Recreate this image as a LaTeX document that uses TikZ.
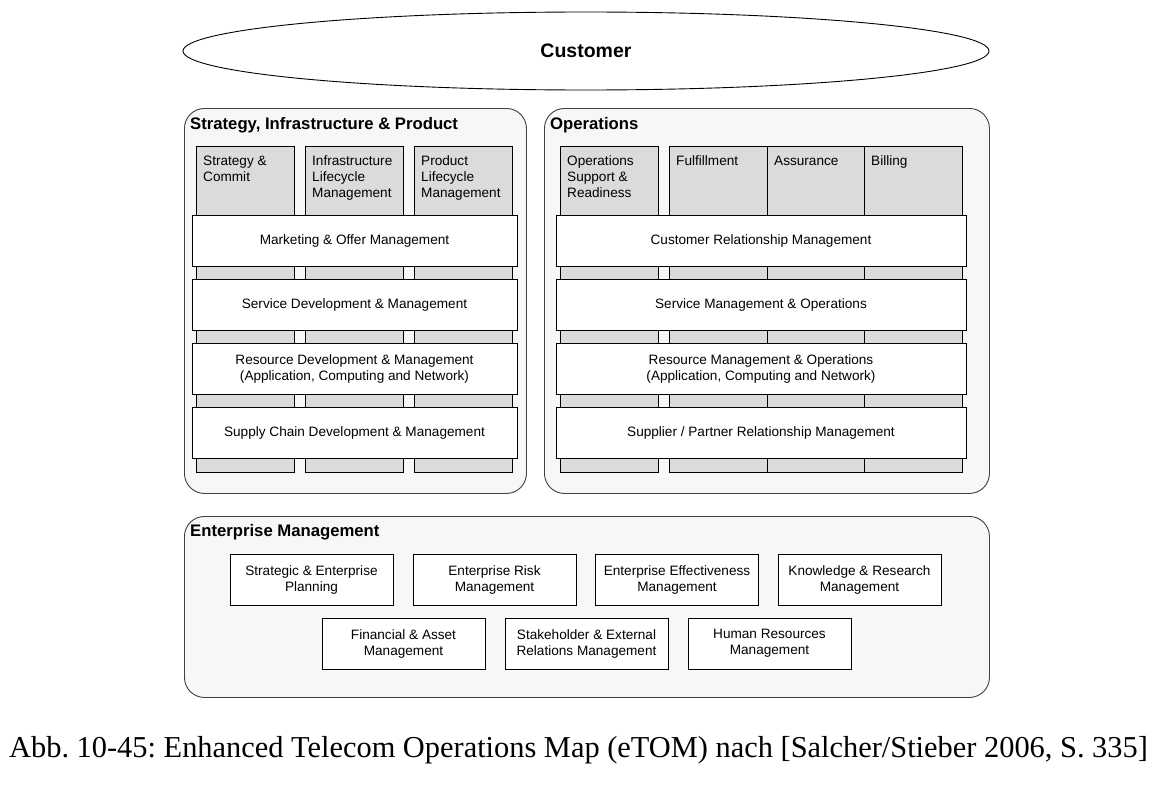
\documentclass[tikz,border=0pt]{standalone}
\usepackage{fontspec}
\setmainfont{Liberation Sans}
\newfontfamily\captionfont{Liberation Serif}
\usetikzlibrary{shapes.geometric}

\tikzset{
  panel/.style={draw=black!75,fill=black!3,rounded corners=20pt,line width=0.9pt,anchor=north west,inner sep=0pt},
  paneltitle/.style={anchor=north west,inner sep=0pt,font=\fontsize{16.7}{19}\selectfont\bfseries},
  column/.style={draw,fill=black!14,line width=0.9pt,anchor=north west,minimum width=98pt,minimum height=326pt,inner sep=0pt},
  coltext/.style={anchor=north west,align=left,inner sep=0pt,font=\fontsize{13.6}{16}\selectfont},
  layer/.style={draw,fill=white,line width=0.9pt,minimum height=51pt,align=center,inner sep=0pt,font=\fontsize{13.6}{16}\selectfont},
  embox/.style={draw,fill=white,line width=0.9pt,minimum width=163pt,minimum height=51pt,align=center,inner sep=0pt,font=\fontsize{13.6}{16}\selectfont},
}

\begin{document}
\begin{tikzpicture}[x=1pt,y=-1pt]
    \useasboundingbox (0,0) rectangle (1160,792);

    % customer
    \node[ellipse,draw,line width=0.9pt,minimum width=806pt,minimum height=78pt,font=\fontsize{19.5}{22}\selectfont\bfseries] (customer) at (586,51) {Customer};

    % panels
    \node[panel,minimum width=342pt,minimum height=385pt] (sip) at (184,108) {};
    \node[panel,minimum width=445pt,minimum height=385pt] (ops) at (544,108) {};
    \node[panel,minimum width=805pt,minimum height=181pt] (em) at (184,516) {};
    \node[paneltitle] (siptitle) at (190,117) {Strategy, Infrastructure \& Product};
    \node[paneltitle] (opstitle) at (550,117) {Operations};
    \node[paneltitle] (emtitle) at (190,524) {Enterprise Management};

    % vertical columns
    \node[column] (sc) at (196,146) {};
    \node[column] (ilm) at (305,146) {};
    \node[column] (plm) at (414,146) {};
    \node[column] (osr) at (560,146) {};
    \node[column] (ful) at (669,146) {};
    \node[column,minimum width=97pt] (ass) at (767,146) {};
    \node[column] (bil) at (864,146) {};
    \node[coltext] (sctext) at ([xshift=7pt,yshift=-9.5pt]sc.north west) {Strategy \&\\Commit};
    \node[coltext] (ilmtext) at ([xshift=7pt,yshift=-9.5pt]ilm.north west) {Infrastructure\\Lifecycle\\Management};
    \node[coltext] (plmtext) at ([xshift=7pt,yshift=-9.5pt]plm.north west) {Product\\Lifecycle\\Management};
    \node[coltext] (osrtext) at ([xshift=7pt,yshift=-9.5pt]osr.north west) {Operations\\Support \&\\Readiness};
    \node[coltext] (fultext) at ([xshift=7pt,yshift=-9.5pt]ful.north west) {Fulfillment};
    \node[coltext] (asstext) at ([xshift=7pt,yshift=-9.5pt]ass.north west) {Assurance};
    \node[coltext] (biltext) at ([xshift=7pt,yshift=-9.5pt]bil.north west) {Billing};

    % horizontal layers
    \node[layer,minimum width=325pt] (mom) at (354.5,240.5) {Marketing \& Offer Management};
    \node[layer,minimum width=325pt] (sdm) at (354.5,304.5) {Service Development \& Management};
    \node[layer,minimum width=325pt] (rdm) at (354.5,369) {Resource Development \& Management\\(Application, Computing and Network)};
    \node[layer,minimum width=325pt] (scdm) at (354.5,433) {Supply Chain Development \& Management};
    \node[layer,minimum width=410pt] (crm) at (761,240.5) {Customer Relationship Management};
    \node[layer,minimum width=410pt] (smo) at (761,304.5) {Service Management \& Operations};
    \node[layer,minimum width=410pt] (rmo) at (761,369) {Resource Management \& Operations\\(Application, Computing and Network)};
    \node[layer,minimum width=410pt] (sprm) at (761,433) {Supplier / Partner Relationship Management};

    % enterprise management
    \node[embox] (sep) at (311.5,579.5) {Strategic \& Enterprise\\Planning};
    \node[embox] (erm) at (494.5,579.5) {Enterprise Risk\\Management};
    \node[embox] (eem) at (677,579.5) {Enterprise Effectiveness\\Management};
    \node[embox] (krm) at (859.5,579.5) {Knowledge \& Research\\Management};
    \node[embox] (fam) at (403.5,643.5) {Financial \& Asset\\Management};
    \node[embox] (serm) at (586.5,643.5) {Stakeholder \& External\\Relations Management};
    \node[embox] (hrm) at (769.5,643.5) {Human Resources\\Management};

    \node[anchor=base,inner sep=0pt,font=\captionfont\fontsize{30.4}{33}\selectfont\frenchspacing] (caption) at (578.5,757) {Abb. 10-45: Enhanced Telecom Operations Map (eTOM) nach [Salcher/Stieber 2006, S. 335]};
\end{tikzpicture}
\end{document}
